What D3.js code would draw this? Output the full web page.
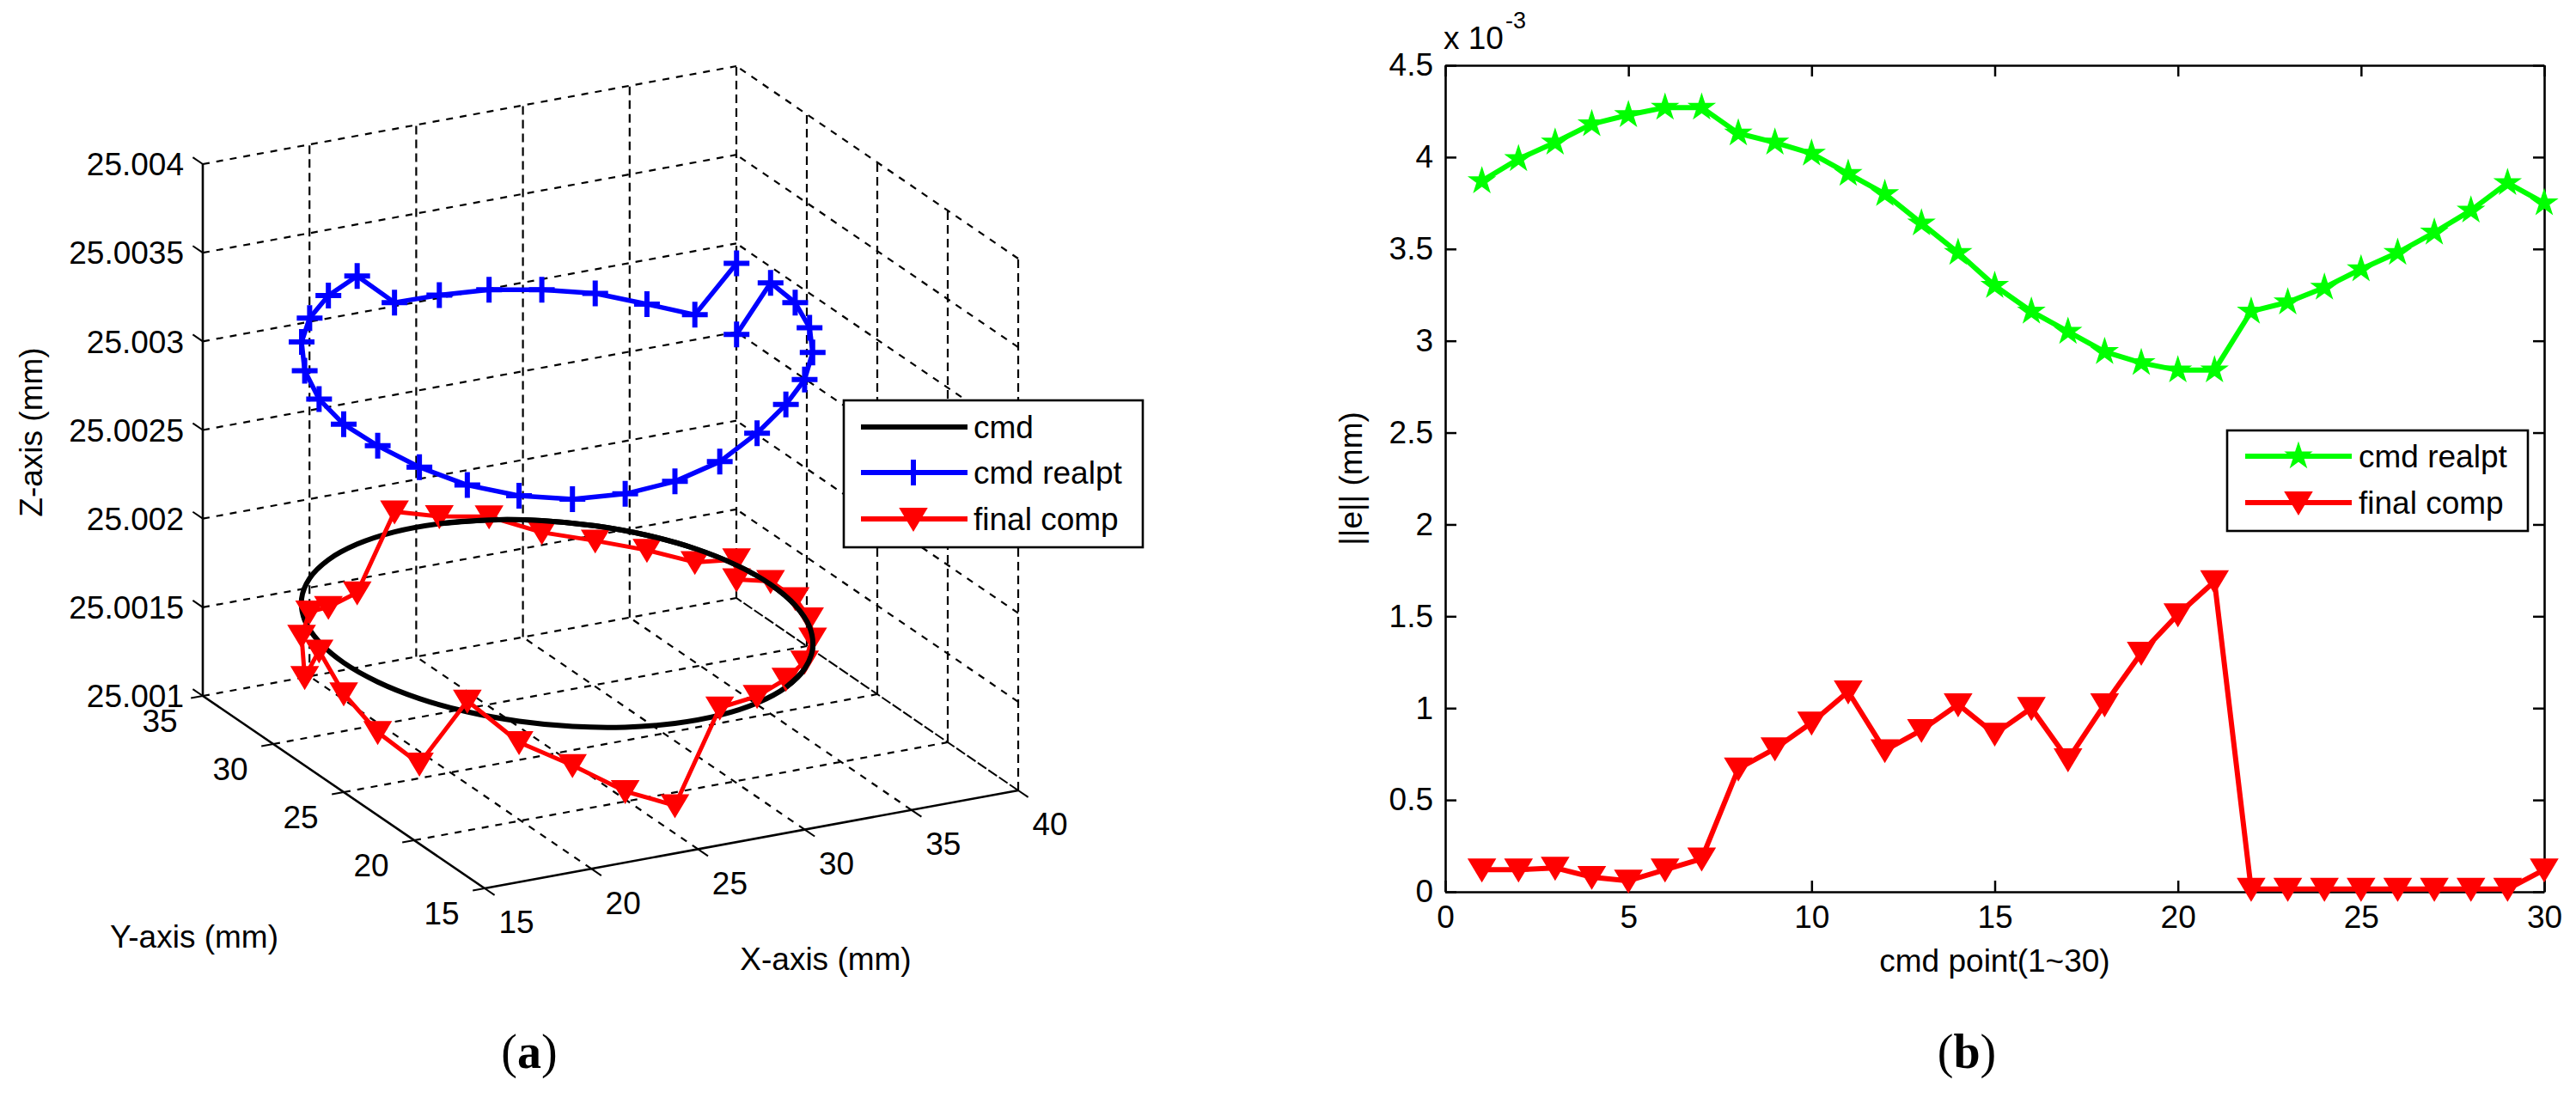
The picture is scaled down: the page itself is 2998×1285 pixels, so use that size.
<!DOCTYPE html>
<html><head><meta charset="utf-8">
<script src="https://cdn.jsdelivr.net/npm/d3@7"></script>
<style>body{margin:0;background:#fff}svg{display:block}</style>
</head><body>
<svg id="c" width="2998" height="1285"></svg>
<script>
// ---------------- data: (a) 3D trajectories (mm) ----------------
const cmdPtX = [34.78,35.00,34.78,34.14,33.09,31.69,30.00,28.09,26.05,23.95,21.91,20.00,18.31,16.91,15.86,15.22,15.00,15.22,15.86,16.91,18.31,20.00,21.91,23.95,26.05,28.09,30.00,31.69,33.09,34.14,34.78];
const cmdPtY = [27.08,25.00,22.92,20.93,19.12,17.57,16.34,15.49,15.05,15.05,15.49,16.34,17.57,19.12,20.93,22.92,25.00,27.08,29.07,30.88,32.43,33.66,34.51,34.95,34.95,34.51,33.66,32.43,30.88,29.07,27.08];
const cmdZ = 25.00173;
const realptZ = [25.003032,25.003431,25.003437,25.003418,25.003399,25.003362,25.003325,25.003252,25.003160,25.003095,25.003046,25.003012,25.003002,25.003009,25.003035,25.003062,25.003075,25.003099,25.003137,25.003178,25.003198,25.003221,25.003243,25.003024,25.003019,25.003028,25.003032,25.003041,25.003034,25.003049,25.003433];
const finalCompZ = [25.001649,25.001748,25.001769,25.001777,25.001785,25.001770,25.001777,25.001768,25.001772,25.001267,25.001368,25.001511,25.001611,25.001792,25.001362,25.001446,25.001556,25.001680,25.001408,25.001520,25.001541,25.001463,25.001457,25.001844,25.001771,25.001749,25.001664,25.001646,25.001646,25.001653,25.001762];
const xTicks3 = [15,20,25,30,35,40];
const yTicks3 = [15,20,25,30,35];
const zTicks3 = [25.001,25.0015,25.002,25.0025,25.003,25.0035,25.004];
const zTickLabels = ["25.001","25.0015","25.002","25.0025","25.003","25.0035","25.004"];
const legendA = ["cmd","cmd realpt","final comp"];

// ---------------- data: (b) error norms (x 10^-3 mm) ----------------
const cmdPoint = [1,2,3,4,5,6,7,8,9,10,11,12,13,14,15,16,17,18,19,20,21,22,23,24,25,26,27,28,29,30];
const errRealpt = [3.87,3.99,4.08,4.18,4.23,4.27,4.27,4.13,4.08,4.02,3.91,3.80,3.64,3.48,3.30,3.16,3.05,2.94,2.88,2.84,2.84,3.16,3.21,3.29,3.39,3.48,3.59,3.71,3.86,3.75];
const errFinal = [0.12,0.12,0.13,0.08,0.06,0.12,0.18,0.67,0.78,0.92,1.09,0.77,0.88,1.02,0.86,1.00,0.72,1.02,1.30,1.51,1.69,0.015,0.015,0.015,0.015,0.015,0.015,0.015,0.015,0.12];
const errXTicks = [0,5,10,15,20,25,30];
const errYTicks = [0,0.5,1,1.5,2,2.5,3,3.5,4,4.5];
const legendB = ["cmd realpt","final comp"];

const FONT = '"Liberation Sans", Arial, sans-serif';
const svg = d3.select('#c');

// ---------------- (a) 3D projection built from linear scales ----------------
const sx = d3.scaleLinear().domain([15,40]).range([0,1]);
const sy = d3.scaleLinear().domain([15,35]).range([0,1]);
const sz = d3.scaleLinear().domain([25.001,25.004]).range([0,1]);
const O = [564,1034], EX = [621,-114], EY = [-328,-224], EZ = [0,-619];
function P(x,y,z){
  const a = sx(x), b = sy(y), c = sz(z);
  return [O[0]+a*EX[0]+b*EY[0]+c*EZ[0], O[1]+a*EX[1]+b*EY[1]+c*EZ[1]];
}
const zMin = 25.001, zMax = 25.004;
const ga = svg.append('g');
function seg(g,a,b,dash,w){
  g.append('line').attr('x1',a[0]).attr('y1',a[1]).attr('x2',b[0]).attr('y2',b[1])
   .attr('stroke','#000').attr('stroke-width',w||2.2).attr('stroke-dasharray',dash||null);
}
const dV = '10,6', dS = '8,8';
// back wall y=35
xTicks3.forEach(x => { if (x!==15) seg(ga,P(x,35,zMin),P(x,35,zMax),dV); });
zTicks3.forEach(z => { if (z!==zMin) seg(ga,P(15,35,z),P(40,35,z),dS); });
// back wall x=40
yTicks3.forEach(y => { if (y!==35) seg(ga,P(40,y,zMin),P(40,y,zMax),dV); });
zTicks3.forEach(z => { if (z!==zMin) seg(ga,P(40,15,z),P(40,35,z),dS); });
// floor
xTicks3.forEach(x => { if (x!==15 && x!==40) seg(ga,P(x,15,zMin),P(x,35,zMin),dS); });
seg(ga,P(40,15,zMin),P(40,35,zMin),'12,3',2);
yTicks3.forEach(y => { if (y!==15) seg(ga,P(15,y,zMin),P(40,y,zMin),dS); });
// axes
seg(ga,P(15,35,zMin),P(15,35,zMax),null,2.6);
seg(ga,P(15,35,zMin),P(15,15,zMin),null,2.6);
seg(ga,P(15,15,zMin),P(40,15,zMin),null,2.6);
// ticks + labels
const tz = [-11.6,-7.9], ty = [-13.8,2.5], tx = [11.6,7.9];
zTicks3.forEach((z,i) => {
  const p = P(15,35,z);
  seg(ga,p,[p[0]+tz[0],p[1]+tz[1]],null,2);
  ga.append('text').attr('x',214).attr('y',p[1]).attr('dy','0.36em').attr('text-anchor','end')
    .attr('font-family',FONT).attr('font-size',37).text(zTickLabels[i]);
});
yTicks3.forEach(y => {
  const p = P(15,y,zMin);
  seg(ga,p,[p[0]+ty[0],p[1]+ty[1]],null,2);
  ga.append('text').attr('x',p[0]-50).attr('y',p[1]+29).attr('dy','0.36em').attr('text-anchor','middle')
    .attr('font-family',FONT).attr('font-size',37).text(y);
});
xTicks3.forEach(x => {
  const p = P(x,15,zMin);
  seg(ga,p,[p[0]+tx[0],p[1]+tx[1]],null,2);
  ga.append('text').attr('x',p[0]+37).attr('y',p[1]+39).attr('dy','0.36em').attr('text-anchor','middle')
    .attr('font-family',FONT).attr('font-size',37).text(x);
});
ga.append('text').attr('transform','translate(36,503) rotate(-90)').attr('dy','0.36em').attr('text-anchor','middle')
  .attr('font-family',FONT).attr('font-size',37).text('Z-axis (mm)');
ga.append('text').attr('x',226).attr('y',1090).attr('dy','0.36em').attr('text-anchor','middle')
  .attr('font-family',FONT).attr('font-size',37).text('Y-axis (mm)');
ga.append('text').attr('x',961).attr('y',1116).attr('dy','0.36em').attr('text-anchor','middle')
  .attr('font-family',FONT).attr('font-size',37).text('X-axis (mm)');

// series
const plusPath = 'M-15,0H15M0,-15V15';
const triPath = 'M-15,-12L15,-12L0,13Z';
const lin = d3.line();
const realPts = cmdPtX.map((x,i) => P(x,cmdPtY[i],realptZ[i]));
const compPts = cmdPtX.map((x,i) => P(x,cmdPtY[i],finalCompZ[i]));
const ringPts = cmdPtX.slice(1).map((x,i) => P(x,cmdPtY[i+1],cmdZ));
// blue
ga.append('path').attr('d',lin(realPts)).attr('fill','none').attr('stroke','#0000ff').attr('stroke-width',5.5).attr('stroke-linejoin','round');
realPts.forEach(p => ga.append('path').attr('d',plusPath).attr('transform',`translate(${p[0]},${p[1]})`)
  .attr('stroke','#0000ff').attr('stroke-width',6).attr('fill','none'));
// black ring
ga.append('path').attr('d',d3.line().curve(d3.curveCatmullRomClosed)(ringPts)).attr('fill','none').attr('stroke','#000').attr('stroke-width',6);
// red
ga.append('path').attr('d',lin(compPts)).attr('fill','none').attr('stroke','#ff0000').attr('stroke-width',5).attr('stroke-linejoin','round');
compPts.forEach(p => ga.append('path').attr('d',triPath).attr('transform',`translate(${p[0]},${p[1]})`)
  .attr('fill','#ff0000').attr('stroke','#ff0000').attr('stroke-width',2));
// black arc over red (back-right part)
const overIdx = [24,25,26,27,28,29,30,1,2,3,4,5,6];
ga.append('path').attr('d',d3.line().curve(d3.curveCatmullRom)(overIdx.map(i => P(cmdPtX[i],cmdPtY[i],cmdZ))))
  .attr('fill','none').attr('stroke','#000').attr('stroke-width',6);

// legend (a)
const la = svg.append('g');
la.append('rect').attr('x',982).attr('y',466).attr('width',348).attr('height',171).attr('fill','#fff').attr('stroke','#000').attr('stroke-width',2.6);
const lac = ['#000','#0000ff','#ff0000'], lay = [497,550,604];
legendA.forEach((t,i) => {
  la.append('line').attr('x1',1002).attr('x2',1126).attr('y1',lay[i]).attr('y2',lay[i]).attr('stroke',lac[i]).attr('stroke-width',6);
  if (i===1) la.append('path').attr('d',plusPath).attr('transform',`translate(1063,${lay[i]})`).attr('stroke',lac[i]).attr('stroke-width',6);
  if (i===2) la.append('path').attr('d',triPath).attr('transform',`translate(1063,${lay[i]})`).attr('fill',lac[i]).attr('stroke',lac[i]).attr('stroke-width',2);
  la.append('text').attr('x',1133).attr('y',lay[i]+13).attr('font-family',FONT).attr('font-size',37).text(t);
});

// ---------------- (b) 2D error plot ----------------
const bx = d3.scaleLinear().domain([0,30]).range([1682,2961]);
const by = d3.scaleLinear().domain([0,4.5]).range([1038,76]);
const gb = svg.append('g');
gb.append('g').attr('transform',`translate(${bx(0)},0)`).call(d3.axisLeft(by).tickValues(errYTicks).tickSizeInner(-13).tickSizeOuter(0).tickPadding(14).tickFormat(d => String(d)));
gb.append('g').attr('transform',`translate(${bx(30)},0)`).call(d3.axisRight(by).tickValues(errYTicks).tickSizeInner(-13).tickSizeOuter(0).tickFormat(''));
gb.append('g').attr('transform',`translate(0,${by(0)})`).call(d3.axisBottom(bx).tickValues(errXTicks).tickSizeInner(-13).tickSizeOuter(0).tickPadding(16).tickFormat(d => String(d)));
gb.append('g').attr('transform',`translate(0,${by(4.5)})`).call(d3.axisTop(bx).tickValues(errXTicks).tickSizeInner(-13).tickSizeOuter(0).tickFormat(''));
gb.selectAll('text').attr('font-family',FONT).attr('font-size',37).attr('fill','#000');
gb.selectAll('line').attr('stroke','#000').attr('stroke-width',2.5);
gb.selectAll('path.domain').attr('stroke','#000').attr('stroke-width',2.6);
gb.append('text').attr('x',1680).attr('y',57).attr('font-family',FONT).attr('font-size',37).text('x 10');
gb.append('text').attr('x',1752).attr('y',33).attr('font-family',FONT).attr('font-size',27).text('-3');
gb.append('text').attr('x',bx(15)).attr('y',1118).attr('dy','0.36em').attr('text-anchor','middle').attr('font-family',FONT).attr('font-size',37).text('cmd point(1~30)');
gb.append('text').attr('transform',`translate(1572,${(by(0)+by(4.5))/2}) rotate(-90)`).attr('dy','0.36em').attr('text-anchor','middle').attr('font-family',FONT).attr('font-size',37).text('||e|| (mm)');

const lineB = d3.line().x((d,i) => bx(cmdPoint[i])).y(d => by(d));
const star = d3.symbol().type(d3.symbolStar).size(230);
gb.append('path').attr('d',lineB(errRealpt)).attr('fill','none').attr('stroke','#00ff00').attr('stroke-width',6).attr('stroke-linejoin','round');
errRealpt.forEach((v,i) => gb.append('path').attr('d',star()).attr('transform',`translate(${bx(cmdPoint[i])},${by(v)})`).attr('fill','#00ff00').attr('stroke','#00ff00').attr('stroke-width',2));
gb.append('path').attr('d',lineB(errFinal)).attr('fill','none').attr('stroke','#ff0000').attr('stroke-width',6).attr('stroke-linejoin','round');
errFinal.forEach((v,i) => gb.append('path').attr('d',triPath).attr('transform',`translate(${bx(cmdPoint[i])},${by(v)})`).attr('fill','#ff0000').attr('stroke','#ff0000').attr('stroke-width',2));

// legend (b)
const lb = svg.append('g');
lb.append('rect').attr('x',2592).attr('y',501).attr('width',350).attr('height',117).attr('fill','#fff').attr('stroke','#000').attr('stroke-width',2.6);
const lbc = ['#00ff00','#ff0000'], lby = [531,585];
legendB.forEach((t,i) => {
  lb.append('line').attr('x1',2613).attr('x2',2737).attr('y1',lby[i]).attr('y2',lby[i]).attr('stroke',lbc[i]).attr('stroke-width',6);
  if (i===0) lb.append('path').attr('d',star()).attr('transform',`translate(2675,${lby[i]})`).attr('fill',lbc[i]).attr('stroke',lbc[i]).attr('stroke-width',2);
  else lb.append('path').attr('d',triPath).attr('transform',`translate(2675,${lby[i]})`).attr('fill',lbc[i]).attr('stroke',lbc[i]).attr('stroke-width',2);
  lb.append('text').attr('x',2745).attr('y',lby[i]+13).attr('font-family',FONT).attr('font-size',37).text(t);
});

// captions
function caption(x,letter){
  const t = svg.append('text').attr('x',x).attr('y',1243).attr('text-anchor','middle')
    .attr('font-family','"Liberation Serif", "DejaVu Serif", serif').attr('font-size',56);
  t.append('tspan').text('(');
  t.append('tspan').attr('font-weight','bold').text(letter);
  t.append('tspan').text(')');
}
caption(616,'a');
caption(2289,'b');
</script>
</body></html>
